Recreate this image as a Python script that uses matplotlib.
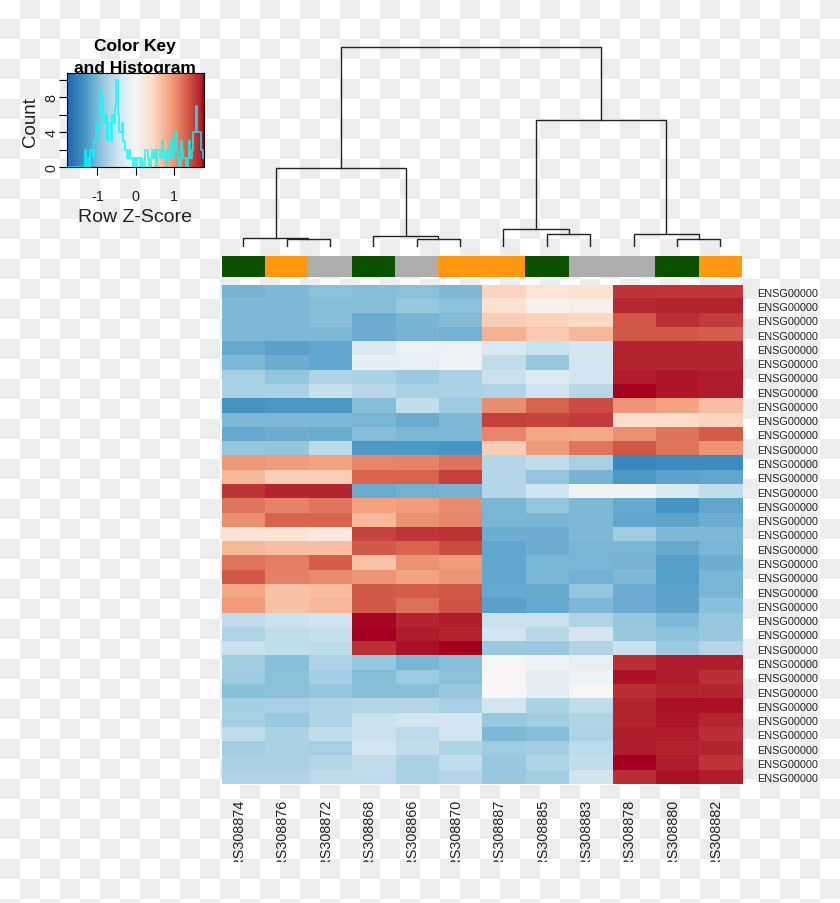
"""Recreate a heatmap.2 style clustered heatmap with colour key and column dendrogram."""

import numpy as np
import matplotlib
matplotlib.use('Agg')
import matplotlib.pyplot as plt
from matplotlib.colors import LinearSegmentedColormap

plt.rcParams['font.family'] = ['Liberation Sans', 'DejaVu Sans']

# ========== DATA ==========
sample_labels = ['ERS308874', 'ERS308876', 'ERS308872', 'ERS308868', 'ERS308866', 'ERS308870',
                 'ERS308887', 'ERS308885', 'ERS308883', 'ERS308878', 'ERS308880', 'ERS308882']
gene_labels = ['ENSG00000'] * 35
side_colors = ['#0b5200', '#ff9810', '#adadad', '#0b5200', '#adadad', '#ff9810',
               '#ff9810', '#0b5200', '#adadad', '#adadad', '#0b5200', '#ff9810']

zscores = [
    [-1.05, -1.0, -.93, -.97, -.93, -1.0, .5, .3, .33, 1.6, 1.58, 1.58],
    [-1.0, -1.0, -.97, -.97, -.87, -.93, .35, .1, .13, 1.67, 1.68, 1.7],
    [-1.0, -1.0, -.97, -1.1, -1.03, -.98, .55, .52, .45, 1.4, 1.62, 1.55],
    [-1.0, -1.0, -1.0, -1.1, -1.05, -1.07, .8, .6, .75, 1.38, 1.38, 1.35],
    [-1.15, -1.22, -1.18, -.35, -.15, -.15, -.35, -.5, -.4, 1.68, 1.68, 1.68],
    [-1.0, -1.1, -1.18, -.2, -.18, -.12, -.55, -.85, -.42, 1.7, 1.68, 1.68],
    [-.75, -.9, -.7, -.73, -.83, -.72, -.48, -.3, -.43, 1.72, 1.73, 1.72],
    [-.72, -.72, -.52, -.63, -.73, -.73, -.68, -.45, -.62, 1.8, 1.73, 1.72],
    [-1.33, -1.3, -1.3, -.97, -.55, -.82, 1.05, 1.33, 1.45, 1.0, .9, .68],
    [-1.0, -1.0, -1.0, -1.03, -1.12, -1.0, 1.52, 1.5, 1.55, .4, .42, .5],
    [-1.15, -1.1, -1.12, -.97, -1.02, -1.0, 1.1, .88, .85, 1.03, 1.22, 1.37],
    [-.88, -.88, -.6, -1.28, -1.28, -1.33, .55, .97, 1.2, 1.4, 1.2, 1.0],
    [.98, .95, .9, 1.1, 1.12, 1.22, -.65, -.55, -.75, -1.45, -1.42, -1.42],
    [.75, .55, .55, 1.33, 1.33, 1.52, -.65, -.9, -1.05, -1.28, -1.2, -1.18],
    [1.6, 1.68, 1.68, -1.12, -1.07, -1.05, -.65, -.45, -.1, -.1, -.35, -.55],
    [1.2, 1.12, 1.2, .9, .95, 1.08, -1.03, -.9, -1.0, -1.15, -1.33, -1.18],
    [1.03, 1.32, 1.32, .72, 1.02, 1.1, -1.03, -1.03, -1.0, -1.18, -1.2, -1.1],
    [.3, .3, .22, 1.5, 1.58, 1.6, -1.1, -1.1, -1.0, -.8, -1.0, -1.0],
    [.75, .68, .68, 1.38, 1.32, 1.45, -1.18, -1.1, -1.03, -1.03, -1.15, -1.03],
    [1.2, 1.15, 1.35, .65, 1.02, .95, -1.18, -1.03, -1.03, -1.05, -1.25, -1.1],
    [1.38, 1.13, 1.07, 1.0, .9, 1.0, -1.18, -1.03, -1.07, -1.0, -1.25, -1.03],
    [.88, .65, .7, 1.38, 1.35, 1.4, -1.15, -1.15, -.9, -1.1, -1.2, -1.03],
    [.95, .67, .75, 1.38, 1.25, 1.42, -1.22, -1.13, -1.0, -1.1, -1.2, -.95],
    [-.55, -.48, -.45, 1.78, 1.68, 1.72, -.5, -.5, -.68, -.88, -1.0, -.85],
    [-.68, -.55, -.52, 1.8, 1.72, 1.7, -.43, -.62, -.4, -.85, -.92, -.85],
    [-.48, -.55, -.6, 1.62, 1.75, 1.8, -.83, -.83, -.68, -.5, -.82, -.65],
    [-.8, -.95, -.7, -.85, -1.03, -.95, .02, -.08, -.18, 1.62, 1.72, 1.72],
    [-.82, -.93, -.77, -.97, -.82, -.93, .02, -.22, -.12, 1.75, 1.72, 1.63],
    [-.95, -.93, -.88, -.95, -.95, -.85, .0, -.2, .0, 1.62, 1.7, 1.68],
    [-.77, -.75, -.7, -.65, -.65, -.75, -.42, -.72, -.55, 1.7, 1.75, 1.75],
    [-.75, -.85, -.7, -.48, -.42, -.42, -.85, -.8, -.68, 1.7, 1.73, 1.68],
    [-.57, -.72, -.55, -.5, -.6, -.42, -1.0, -.97, -.7, 1.72, 1.72, 1.62],
    [-.78, -.72, -.75, -.42, -.55, -.7, -.8, -.78, -.6, 1.72, 1.7, 1.68],
    [-.72, -.72, -.65, -.55, -.72, -.55, -.85, -.7, -.55, 1.8, 1.72, 1.6],
    [-.68, -.68, -.6, -.58, -.72, -.65, -.85, -.78, -.45, 1.62, 1.75, 1.72],
]

# hclust style merges: negative = leaf number, positive = earlier merge number
dend_merges = [(-2, -3), (-1, 1), (-5, -6), (-4, 3), (2, 4),
               (-8, -9), (-7, 6), (-11, -12), (-10, 8), (7, 9), (5, 10)]
dend_heights = [8, 9, 8, 11, 79, 13, 18, 8, 13, 127, 200]

hist_counts = [0, 0, 0, 0, 0, 0, 0, 0, 0, 0, 0, 0, 0, 2, 0, 1, 0, 2, 2, 1,
               3, 5, 4, 5, 9, 8, 6, 5, 6, 3, 5, 5, 3, 6, 5, 7, 10, 6, 4, 4,
               5, 3, 2, 2, 1, 2, 1, 1, 0, 1, 0, 1, 1, 0, 1, 0, 0, 2, 2, 1,
               0, 1, 2, 1, 2, 0, 2, 2, 1, 3, 2, 1, 0, 2, 1, 3, 3, 1, 2, 4,
               2, 1, 0, 3, 2, 1, 1, 0, 1, 3, 1, 2, 4, 4, 7, 4, 4, 4, 2, 1]

key_ticks = [-1, 0, 1]
count_ticks = [0, 2, 4, 6, 8, 10]
count_labels = ['0', '', '4', '', '8', '']

# ========== LAYOUT (pixels) ==========
W, H = 840, 904
Z_MAX = 1.8

rdbu = LinearSegmentedColormap.from_list('rdbu_key', [
    (0.0, '#2166ac'), (0.125, '#4393c3'), (0.25, '#92c5de'), (0.375, '#d1e5f0'),
    (0.5, '#f7f7f7'), (0.625, '#fddbc7'), (0.75, '#f4a582'), (0.875, '#d6604d'),
    (0.978, '#b2202d'), (1.0, '#a5001f')])


def px_axes(left, top, right, bottom, **kw):
    return fig.add_axes([left / W, 1 - bottom / H, (right - left) / W, (bottom - top) / H], **kw)


fig = plt.figure(figsize=(W / 100, H / 100), dpi=100)

# checkerboard backdrop, with the free text of the colour key on top of it
bg = px_axes(0, 0, W, H, zorder=0)
rows, cols = np.indices((H // 20 + 1, W // 20 + 1))
bg.imshow((rows + cols) % 2, cmap=LinearSegmentedColormap.from_list('chk', ['#ffffff', '#ededed']),
          extent=(0, (W // 20 + 1) * 20, (H // 20 + 1) * 20, 0), interpolation='nearest', aspect='auto')
bg.set_xlim(0, W)
bg.set_ylim(H, 0)
bg.axis('off')
bg.text(135, 47, 'Color Key', fontsize=12.5, fontweight='bold', ha='center', va='center')
bg.text(135, 69, 'and Histogram', fontsize=12.5, fontweight='bold', ha='center', va='center')
bg.text(30, 122, 'Count', fontsize=13.5, rotation=90, ha='center', va='center', color='#222222')
bg.text(135, 218, 'Row Z-Score', fontsize=14, ha='center', va='center', color='#222222')

# ========== HEATMAP ==========
n_rows, n_cols = len(gene_labels), len(sample_labels)
ax = px_axes(221.5, 285.5, 742, 785.5, zorder=1)
ax.imshow(np.array(zscores), cmap=rdbu, vmin=-Z_MAX, vmax=Z_MAX, aspect='auto', interpolation='nearest')
ax.yaxis.tick_right()
ax.set_yticks(range(n_rows), gene_labels, fontsize=7.8, color='#222222')
ax.tick_params(axis='y', length=0, pad=11)
ax.set_xticks([])
for s in ax.spines.values():
    s.set_visible(False)

# column labels are cut off at the bottom in the original, so clip them to this strip
lab = px_axes(221.5, 795, 742, 862.5, zorder=1)
lab.set_xlim(0, n_cols)
lab.set_ylim(1, 0)
lab.axis('off')
for i, name in enumerate(sample_labels):
    lab.text(i + 0.4, 0.06, name, rotation=90, ha='center', va='top', fontsize=10.4,
             color='#222222', clip_on=True)

# ========== SIDE COLOUR BAR ==========
side = px_axes(221.5, 257, 742, 278, zorder=1)
side.bar(np.arange(n_cols) + 0.5, 1, width=1, color=side_colors, linewidth=0)
side.set_xlim(0, n_cols)
side.set_ylim(0, 1)
side.axis('off')

# ========== DENDROGRAM ==========
dend = px_axes(221.5, 40, 742, 248, zorder=1)
dend.patch.set_alpha(0)
dend.set_xlim(0, n_cols)
dend.set_ylim(0, 208)
dend.axis('off')
nodes = []


def node_pos(ref):
    if ref < 0:
        return -ref - 0.5, 0
    return nodes[ref - 1]


for (a, b), height in zip(dend_merges, dend_heights):
    xa, ya = node_pos(a)
    xb, yb = node_pos(b)
    dend.plot([xa, xa, xb, xb], [ya, height, height, yb], color='#222222', lw=1.0, solid_joinstyle='miter')
    nodes.append(((xa + xb) / 2, height))

# ========== COLOUR KEY ==========
key = px_axes(67, 74, 204, 168, zorder=1)
key.imshow(np.linspace(-Z_MAX, Z_MAX, 256).reshape(1, -1), cmap=rdbu, vmin=-Z_MAX, vmax=Z_MAX,
           extent=(-Z_MAX, Z_MAX, 0, 10.75), aspect='auto', interpolation='bilinear')
hist_edges = np.linspace(-Z_MAX, Z_MAX, len(hist_counts) + 1)
key.step(hist_edges[:-1], hist_counts, where='post', color='cyan', lw=1.3, alpha=0.8)
key.set_xlim(-Z_MAX, Z_MAX)
key.set_ylim(0, 10.75)
key.set_xticks(key_ticks, ['-1', '0', '1'], fontsize=10.4, color='#222222')
key.set_yticks(count_ticks, count_labels, fontsize=10.4, color='#222222')
key.tick_params(axis='both', length=6, width=0.8)
key.tick_params(axis='x', pad=9.5)
key.tick_params(axis='y', pad=0)
for t in key.get_yticklabels():
    t.set_rotation(90)
    t.set_verticalalignment('center')

fig.savefig('out.png', dpi=100)
